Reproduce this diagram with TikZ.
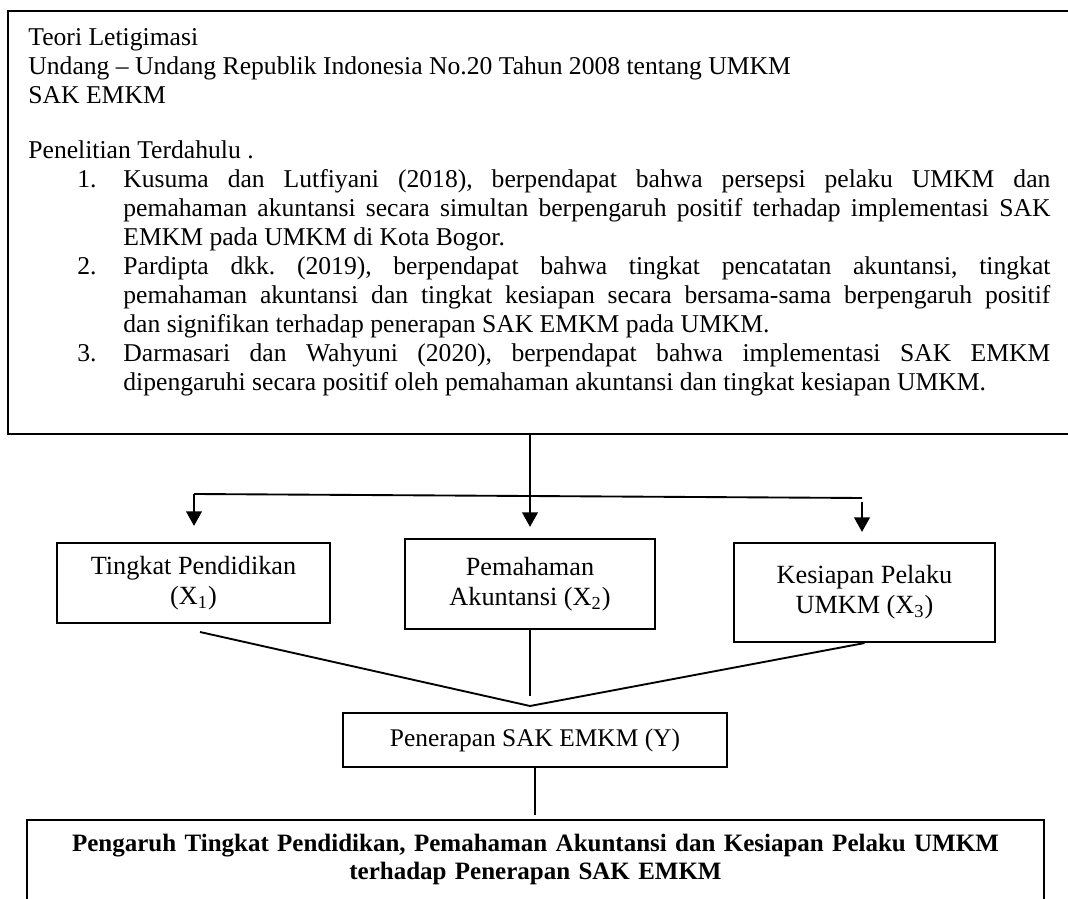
\documentclass[tikz,border=0pt]{standalone}
\usepackage{fontspec}
\setmainfont{Liberation Serif}
\usetikzlibrary{arrows.meta}
\newcommand{\skala}{0.48pt}
\newcommand{\labelkiri}[1]{#1\hfil}
\makeatletter
\newcommand{\ratakanan}{\@rightskip=\z@skip\rightskip=\z@skip\leftskip=\z@skip
  \spaceskip=\z@skip\xspaceskip=\z@skip\parfillskip=0pt plus 1fil\frenchspacing}
\makeatother
\begin{document}
\begin{tikzpicture}[x=\skala,y=-\skala,font=\fontsize{12.3}{13.9}\selectfont,
  kotak/.style={draw,line width=1pt,inner sep=0pt},
  variabel/.style={kotak,align=center,font=\fontsize{12.6}{14.4}\selectfont},
  panah/.style={line width=1pt,-{Triangle[width=7.5pt,length=7pt]}},
  garis/.style={line width=0.9pt}]
\clip (0,0) rectangle (1068,899);
\node[kotak,anchor=north west,minimum width=1064*\skala,minimum height=423*\skala] (teori) at (7,10) {};
\node[anchor=base west,text width=1022*\skala,align=justify,inner sep=0pt] (teoriteks) at (28,45.5) {%
  \parindent=0pt\ratakanan
  Teori Letigimasi\\
  Undang – Undang Republik Indonesia No.20 Tahun 2008 tentang UMKM\\
  SAK EMKM\\[12.7pt]
  Penelitian Terdahulu .
  \begin{list}{}{\leftmargin=45.6pt\labelwidth=14pt\labelsep=8.1pt
    \topsep=0pt\partopsep=0pt\itemsep=0pt\parsep=0pt
    \let\makelabel\labelkiri}
  \item[1.] Kusuma dan Lutfiyani (2018), berpendapat bahwa persepsi pelaku UMKM dan\linebreak
    pemahaman akuntansi secara simultan berpengaruh positif terhadap implementasi SAK\linebreak
    EMKM pada UMKM di Kota Bogor.
  \item[2.] Pardipta dkk.\ (2019), berpendapat bahwa tingkat pencatatan akuntansi, tingkat\linebreak
    pemahaman akuntansi dan tingkat kesiapan secara bersama-sama berpengaruh positif\linebreak
    dan signifikan terhadap penerapan SAK EMKM pada UMKM.
  \item[3.] Darmasari dan Wahyuni (2020), berpendapat bahwa implementasi SAK EMKM\linebreak
    dipengaruhi secara positif oleh pemahaman akuntansi dan tingkat kesiapan UMKM.
  \end{list}};
\node[variabel,minimum width=273*\skala,minimum height=80*\skala] (x1) at (193.5,583) {Tingkat Pendidikan\\(X\textsubscript{1})};
\node[variabel,minimum width=250*\skala,minimum height=90*\skala] (x2) at (530,584) {Pemahaman\\Akuntansi (X\textsubscript{2})};
\node[variabel,minimum width=261*\skala,minimum height=99*\skala] (x3) at (864.5,592.5) {Kesiapan Pelaku\\UMKM (X\textsubscript{3})};
\node[variabel,minimum width=384*\skala,minimum height=54*\skala,line width=0.75pt,font=\fontsize{12.2}{14.4}\selectfont] (y) at (535,740) {Penerapan SAK EMKM (Y)};
\node[kotak,anchor=north,minimum width=1017*\skala,minimum height=150*\skala] (judul) at (535.5,819) {};
\node[anchor=base,text width=1010*\skala,align=center,inner sep=0pt,font=\fontsize{12}{13.6}\selectfont\bfseries] (judulteks) at (535.5,851)
  {Pengaruh Tingkat Pendidikan, Pemahaman Akuntansi dan Kesiapan Pelaku UMKM\\terhadap Penerapan SAK EMKM};
\coordinate (kiri) at (194,494);
\coordinate (kanan) at (862,498);
\coordinate (puncak) at (530,706);
\coordinate (v1) at (200,632);
\draw[panah,shorten >=5.3pt] (x2.north |- teori.south) -- (x2.north);
\draw[garis] (kiri) -- (kanan);
\draw[panah,shorten >=7.7pt] (kiri) -- (kiri |- x1.north);
\draw[panah,shorten <=2pt,shorten >=4.8pt] (kanan) -- (kanan |- x3.north);
\draw[garis] (v1) -- (puncak) -- (x3.south);
\draw[line width=0.6pt] (x2.south) -- (x2.south |- 0,696);
\draw[line width=0.6pt,shorten >=2pt] (y.south) -- (y.south |- judul.north);
\end{tikzpicture}
\end{document}
